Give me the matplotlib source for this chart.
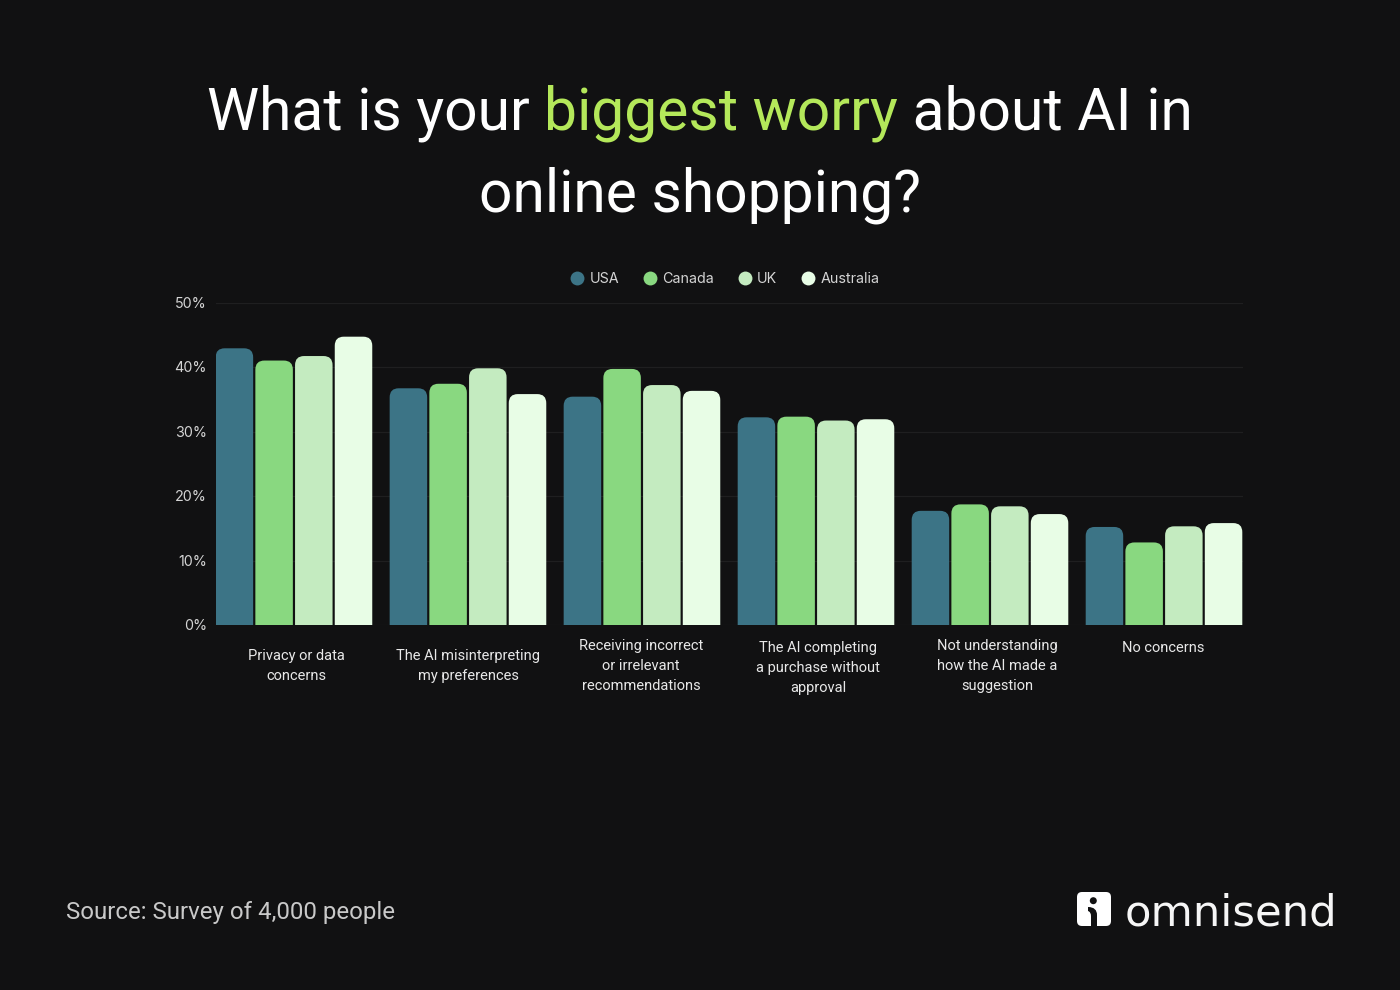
import matplotlib
matplotlib.use('Agg')
import matplotlib.pyplot as plt
from matplotlib.lines import Line2D
from matplotlib.patches import FancyBboxPatch, Circle, PathPatch
from matplotlib.path import Path
from matplotlib.transforms import ScaledTranslation

categories = ['Privacy or data\nconcerns', 'The AI misinterpreting\nmy preferences',
              'Receiving incorrect\nor irrelevant\nrecommendations',
              'The AI completing\na purchase without\napproval',
              'Not understanding\nhow the AI made a\nsuggestion', 'No concerns']
countries = ['USA', 'Canada', 'UK', 'Australia']
usa = [42.9, 36.7, 35.4, 32.2, 17.7, 15.2]
canada = [41.0, 37.4, 39.7, 32.3, 18.7, 12.8]
uk = [41.7, 39.8, 37.2, 31.7, 18.4, 15.3]
australia = [44.7, 35.8, 36.3, 31.9, 17.2, 15.8]
yticks = [0, 10, 20, 30, 40, 50]

colors = ['#3C7486', '#89D880', '#C4EBC0', '#E8FDE6']
bg = '#111112'
W, H = 1400, 990

plt.rcParams['font.family'] = ['Roboto', 'DejaVu Sans']

fig = plt.figure(figsize=(14, 9.9), dpi=100, facecolor=bg)
ax = fig.add_axes([216 / W, 1 - 625 / H, (1243 - 216) / W, (625 - 302.5) / H])
ax.set_facecolor(bg)
ax.set_xlim(-0.448, 5.454)
ax.set_ylim(0, 50)

# px per data unit, needed to keep the corners round
sx = (1243 - 216) / (5.454 + 0.448)
sy = (625 - 302.5) / 50
bw = 37.5 / sx
step = 39.7 / sx

series = [usa, canada, uk, australia]
for j, vals in enumerate(series):
    for i, v in enumerate(vals):
        x = i + (j - 1.5) * step - bw / 2
        ax.add_patch(FancyBboxPatch((x, -3), bw, v + 3,
                                    boxstyle='round,pad=0,rounding_size=%f' % (9 / sx),
                                    mutation_aspect=sx / sy, fc=colors[j], ec='none',
                                    zorder=3, clip_on=True))

ax.set_yticks(yticks, ['%d%%' % t for t in yticks], family='Inter', fontsize=10.3, color='#d4d4d4')
ax.set_xticks(range(6), categories, fontsize=10.5, color='#e8e8e8')
ax.tick_params(length=0)
ax.tick_params(axis='y', pad=6.5)
ax.tick_params(axis='x', pad=11.2)
ax.grid(axis='y', color='#1f1f20', lw=0.9, zorder=0)
ax.grid(axis='x', visible=False)
for s in ax.spines.values():
    s.set_visible(False)

# labels are not all on the same baseline or centre in the original
offs = [(2, -8), (0, -8), (-1, 2), (2, 0), (7, 2), (-1, 0)]
for lab, (dx, dy) in zip(ax.get_xticklabels(), offs):
    lab.set_transform(lab.get_transform() + ScaledTranslation(dx / 100, dy / 100, fig.dpi_scale_trans))
    lab.set_linespacing(1.58)

handles = [Line2D([], [], marker='o', ls='none', ms=10, color=c, mec='none') for c in colors]
ax.legend(handles, countries, loc='center', bbox_to_anchor=((725.5 - 216) / (1243 - 216), 1 + 23.5 / 322.5),
          ncol=4, frameon=False, labelcolor='#d4d4d4', handlelength=0.8, handletextpad=0.48,
          columnspacing=1.72, prop={'family': 'Inter', 'size': 10.3})

# overlay in pixel coordinates for title, source and logo
ov = fig.add_axes([0, 0, 1, 1], facecolor='none')
ov.set_xlim(0, W)
ov.set_ylim(H, 0)
ov.axis('off')

parts = [('What is your ', 'white'), ('biggest worry', '#B4E85A'), (' about AI in', 'white')]
r = fig.canvas.get_renderer()
x = 207
for s, c in parts:
    t = ov.text(x, 113, s.replace(' ', '\u00a0'), color=c, fontsize=42.3, va='center', ha='left')
    x = ov.transData.inverted().transform(t.get_window_extent(r))[1, 0]
ov.text(700, 195, 'online shopping?', color='white', fontsize=42.3, va='center', ha='center')

ov.text(66, 913, 'Source: Survey of 4,000 people', color='#c9c9c9', fontsize=17.3, va='center', ha='left')

ov.add_patch(FancyBboxPatch((1077, 892), 34, 34, boxstyle='round,pad=0,rounding_size=5', fc='white', ec='none'))
ov.add_patch(Circle((1093.3, 900.7), 3.5, fc=bg, ec='none'))
stem = Path([(1088, 907), (1094, 907), (1097, 910), (1097, 915), (1097, 926), (1091, 926),
             (1091, 916), (1091, 912), (1088, 911), (1088, 907)],
            [Path.MOVETO, Path.CURVE4, Path.CURVE4, Path.CURVE4, Path.LINETO, Path.LINETO,
             Path.LINETO, Path.CURVE3, Path.CURVE3, Path.CLOSEPOLY])
ov.add_patch(PathPatch(stem, fc=bg, ec='none'))
ov.text(1125, 925, 'omnisend', color='#f6f6f6', family='DejaVu Sans', fontsize=31.2, va='baseline', ha='left')

fig.savefig('out.png', dpi=100, facecolor=bg)
